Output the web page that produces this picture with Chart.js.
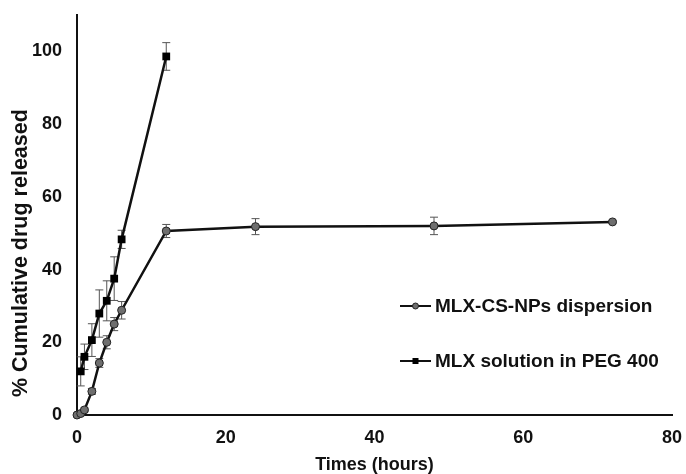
<!DOCTYPE html>
<html>
<head>
<meta charset="utf-8">
<script src="https://cdn.jsdelivr.net/npm/chart.js@4"></script>
<style>
  html, body { margin: 0; padding: 0; background: #fff; }
  #wrap { width: 686px; height: 474px; }
</style>
</head>
<body>
<div id="wrap"><canvas id="releaseChart" width="686" height="474"></canvas></div>
<script>
// release profile
const npTimes = [0, 0.5, 1, 2, 3, 4, 5, 6, 12, 24, 48, 72];
const npRelease = [0, 0.4, 1.4, 6.5, 14.3, 20, 25, 28.8, 50.6, 51.8, 52, 53.1];
const npSd = [0, 0.3, 0.5, 0.8, 1.2, 1.8, 1.8, 2.4, 1.8, 2.2, 2.4, 0.4];

const solTimes = [0.5, 1, 2, 3, 4, 5, 6, 12];
const solRelease = [12, 16, 20.6, 27.9, 31.4, 37.5, 48.3, 98.6];
const solSd = [4, 3.5, 4.5, 6.5, 5.5, 6, 2.5, 3.8];

const seriesLabels = ["MLX-CS-NPs dispersion", "MLX solution in PEG 400"];
const xTicks = [0, 20, 40, 60, 80];
const yTicks = [0, 20, 40, 60, 80, 100];

const toPoints = (xs, ys) => xs.map((x, i) => ({ x: x, y: ys[i] }));
const sdList = [npSd, solSd];

// error bars drawn from the sd arrays through the chart scales
const errorBars = {
  id: "errorBars",
  beforeDatasetsDraw(chart) {
    const ctx = chart.ctx;
    const xs = chart.scales.x, ys = chart.scales.y;
    ctx.save();
    ctx.strokeStyle = "#555";
    ctx.lineWidth = 1;
    chart.data.datasets.forEach((ds, di) => {
      ds.data.forEach((p, i) => {
        const sd = sdList[di][i];
        if (!sd) return;
        const px = xs.getPixelForValue(p.x);
        const top = ys.getPixelForValue(p.y + sd);
        const bot = ys.getPixelForValue(p.y - sd);
        ctx.beginPath();
        ctx.moveTo(px, top); ctx.lineTo(px, bot);
        ctx.moveTo(px - 4, top); ctx.lineTo(px + 4, top);
        ctx.moveTo(px - 4, bot); ctx.lineTo(px + 4, bot);
        ctx.stroke();
      });
    });
    ctx.restore();
  }
};

// legend sitting inside the plot, lower right
const insideLegend = {
  id: "insideLegend",
  afterDraw(chart) {
    const ctx = chart.ctx;
    const rows = [306, 361];
    ctx.save();
    chart.data.datasets.forEach((ds, i) => {
      const y = rows[i];
      ctx.strokeStyle = "#111";
      ctx.lineWidth = 2;
      ctx.beginPath();
      ctx.moveTo(400, y); ctx.lineTo(431, y);
      ctx.stroke();
      ctx.fillStyle = ds.pointBackgroundColor;
      ctx.strokeStyle = "#222";
      ctx.lineWidth = 1;
      if (ds.pointStyle === "circle") {
        ctx.beginPath();
        ctx.arc(415.5, y, 3, 0, Math.PI * 2);
        ctx.fill(); ctx.stroke();
      } else {
        ctx.fillRect(412.5, y - 3, 6, 6);
      }
      ctx.fillStyle = "#111";
      ctx.font = "bold 19px 'Liberation Sans', Arial, sans-serif";
      ctx.textBaseline = "middle";
      ctx.textAlign = "left";
      ctx.fillText(ds.label, 435, y + 1);
    });
    ctx.restore();
  }
};

const tickFont = { family: "'Liberation Sans', Arial, sans-serif", size: 18, weight: "bold" };

new Chart(document.getElementById("releaseChart"), {
  type: "scatter",
  data: {
    datasets: [
      {
        label: seriesLabels[0],
        data: toPoints(npTimes, npRelease),
        showLine: true,
        borderColor: "#111",
        borderWidth: 2.5,
        pointStyle: "circle",
        pointRadius: 4,
        pointBackgroundColor: "#6e6e6e",
        pointBorderColor: "#222",
        pointBorderWidth: 1,
        clip: false,
      },
      {
        label: seriesLabels[1],
        data: toPoints(solTimes, solRelease),
        showLine: true,
        borderColor: "#111",
        borderWidth: 2.5,
        pointStyle: "rect",
        pointRadius: 5.5,
        pointBackgroundColor: "#000",
        pointBorderColor: "#000",
        pointBorderWidth: 0,
        clip: false,
      },
    ],
  },
  options: {
    responsive: false,
    animation: false,
    layout: { padding: { top: 15, right: 14, left: 0, bottom: 0 } },
    plugins: { legend: { display: false }, tooltip: { enabled: false } },
    scales: {
      x: {
        type: "linear",
        min: 0,
        max: 80,
        afterBuildTicks: (s) => { s.ticks = xTicks.map((v) => ({ value: v })); },
        afterFit: (s) => { s.height = 59; s.paddingLeft = 0; s.paddingRight = 0; },
        grid: { display: false, drawTicks: false },
        border: { display: true, color: "#111", width: 2 },
        ticks: { color: "#111", font: tickFont, padding: 12 },
        title: {
          display: true,
          text: "Times (hours)",
          color: "#111",
          font: { family: tickFont.family, size: 18, weight: "bold", lineHeight: 1 },
          padding: { top: 0, bottom: 0 },
        },
      },
      y: {
        min: 0,
        max: 110,
        afterBuildTicks: (s) => { s.ticks = yTicks.map((v) => ({ value: v })); },
        afterFit: (s) => { s.width = 77; s.paddingTop = 0; s.paddingBottom = 0; },
        grid: { display: false, drawTicks: false },
        border: { display: true, color: "#111", width: 2 },
        ticks: { color: "#111", font: tickFont, padding: 15 },
        title: {
          display: true,
          align: "start",
          text: "   % Cumulative drug released",
          color: "#111",
          font: { family: tickFont.family, size: 21.5, weight: "bold", lineHeight: 1.2 },
          padding: { top: 8, bottom: 0 },
        },
      },
    },
  },
  plugins: [errorBars, insideLegend],
});
</script>
</body>
</html>
